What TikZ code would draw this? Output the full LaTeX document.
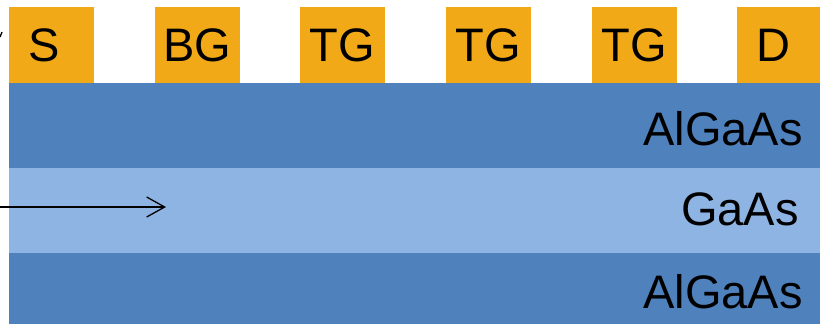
\documentclass[tikz,border=0pt]{standalone}
\usepackage{fontspec}
\setmainfont{Liberation Sans}
\usetikzlibrary{arrows.meta}
\definecolor{gateorange}{HTML}{F2A918}
\definecolor{darkblue}{HTML}{4F81BD}
\definecolor{lightblue}{HTML}{8EB4E3}
\tikzset{
  gatebox/.style={fill=gateorange, draw=none, minimum width=85pt, minimum height=76pt, inner sep=0pt, font=\fontsize{47}{50}\selectfont, text=black},
  layer/.style={draw=none, inner sep=0pt},
  layerlabel/.style={anchor=base east, inner sep=0pt, font=\fontsize{47}{50}\selectfont, text=black},
  flow/.style={line width=1.3pt, -{Straight Barb[length=18pt,width=20pt,line width=1.3pt]}}
}
\begin{document}
\begin{tikzpicture}[x=1pt,y=-1pt]
\useasboundingbox (0,0) rectangle (820,324);
% layers
\fill[darkblue] (9,83) rectangle (820,168);
\fill[lightblue] (9,168) rectangle (820,253);
\fill[darkblue] (9,253) rectangle (820,324);
\node[layerlabel] (top) at (803,145) {AlGaAs};
\node[layerlabel] (mid) at (799,225) {GaAs};
\node[layerlabel] (bot) at (803,308) {AlGaAs};
% gates
\node[gatebox] (s) at (51.5,45) {\hspace*{-14pt}S};
\node[gatebox] (bg) at (197.5,45) {BG};
\node[gatebox] (tg1) at (342.5,45) {TG};
\node[gatebox] (tg2) at (488.5,45) {TG};
\node[gatebox] (tg3) at (634.5,45) {TG};
\node[gatebox, minimum width=83pt] (d) at (778.5,45) {\hspace*{-10pt}D};
% arrow
\coordinate (a0) at (0,207);
\coordinate (a1) at (166,207);
\draw[flow] (a0) -- (a1);
% small stroke at left edge
\coordinate (m0) at (0,37);
\coordinate (m1) at (2,32);
\draw[line width=1.3pt] (m0) -- (m1);
\end{tikzpicture}
\end{document}
